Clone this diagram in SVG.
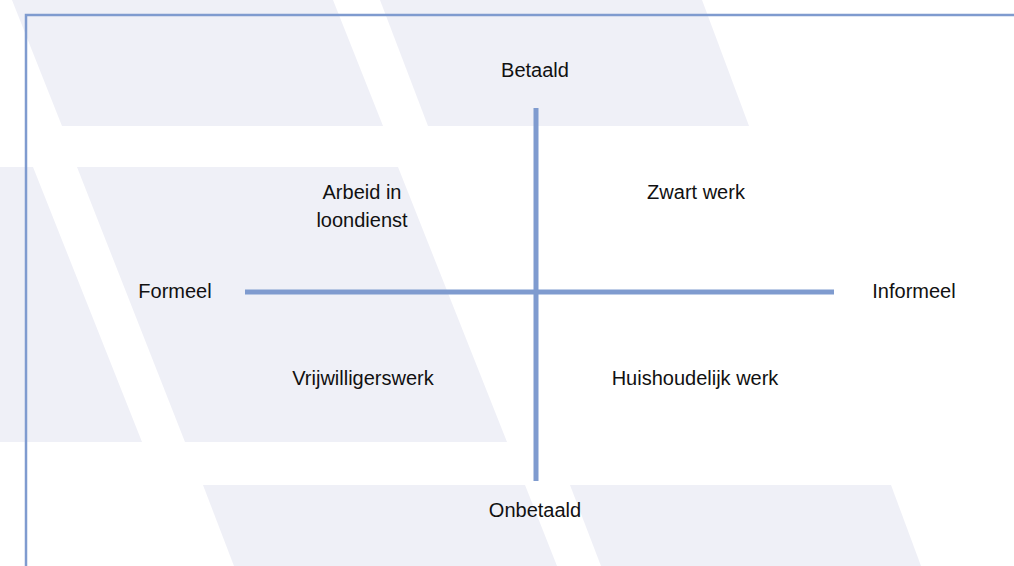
<svg xmlns="http://www.w3.org/2000/svg" width="1014" height="566" viewBox="0 0 1014 566">
  <style>
    .band { fill: #eff0f7; }
    .frame { stroke: #7f9bcf; stroke-width: 2.5; fill: none; }
    .axis { stroke: #7f9bcf; stroke-width: 5; fill: none; }
    .label { font-family: "Liberation Sans", Arial, sans-serif; font-size: 20px; fill: #111111; text-anchor: middle; }
  </style>

  <rect width="1014" height="566" fill="#ffffff"/>

  <!-- slanted background bands -->
  <g id="background">
    <polygon class="band" points="12,0 333,0 383,126 62,126"/>
    <polygon class="band" points="380,0 702,0 749,126 428,126"/>
    <polygon class="band" points="-80,167 33,167 142,442 -80,442"/>
    <polygon class="band" points="77,167 398,167 507,442 185,442"/>
    <polygon class="band" points="203,485 525,485 557,566 234,566"/>
    <polygon class="band" points="570,485 891,485 921,566 601,566"/>
  </g>

  <!-- outer frame -->
  <g id="frame">
    <path class="frame" d="M26,566 V15 H1014"/>
  </g>

  <!-- quadrant axes -->
  <g id="connectors">
    <line class="axis" x1="536" y1="108" x2="536" y2="481"/>
    <line class="axis" x1="245" y1="292" x2="834" y2="292"/>
  </g>

  <g id="betaald"><text class="label" x="535" y="77">Betaald</text></g>
  <g id="onbetaald"><text class="label" x="535" y="517">Onbetaald</text></g>
  <g id="formeel"><text class="label" x="175" y="298">Formeel</text></g>
  <g id="informeel"><text class="label" x="914" y="298">Informeel</text></g>
  <g id="arbeid-in-loondienst">
    <text class="label" x="362" y="199">Arbeid in</text>
    <text class="label" x="362" y="227">loondienst</text>
  </g>
  <g id="zwart-werk"><text class="label" x="696" y="199">Zwart werk</text></g>
  <g id="vrijwilligerswerk"><text class="label" x="363" y="385">Vrijwilligerswerk</text></g>
  <g id="huishoudelijk-werk"><text class="label" x="695" y="385">Huishoudelijk werk</text></g>
</svg>
